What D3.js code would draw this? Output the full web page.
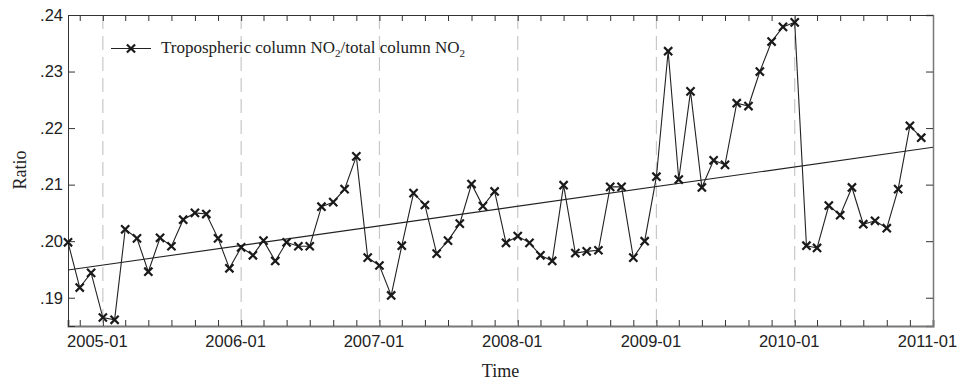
<!DOCTYPE html>
<html>
<head>
<meta charset="utf-8">
<script src="https://cdn.jsdelivr.net/npm/d3@7"></script>
<style>
  body { margin: 0; background: #fff; }
  svg { display: block; }
</style>
</head>
<body>
<svg id="chart" width="961" height="386"></svg>
<script>
// monthly ratio, 2004-10 .. 2010-12
const months = d3.timeMonth.range(new Date(2004, 9, 1), new Date(2011, 0, 1));
const ratio = [
  .1998, .1918, .1944,
  .1865, .1861, .2021, .2005, .1946, .2006, .1991, .2038, .2050, .2048, .2005, .1952,
  .1989, .1975, .2001, .1965, .1998, .1991, .1991, .2061, .2069, .2092, .2150, .1971,
  .1957, .1904, .1992, .2085, .2064, .1978, .2001, .2031, .2101, .2062, .2088, .1997,
  .2009, .1997, .1975, .1965, .2099, .1979, .1982, .1984, .2096, .2096, .1971, .2000,
  .2114, .2336, .2109, .2265, .2095, .2143, .2135, .2244, .2239, .2300, .2353, .2379,
  .2387, .1992, .1988, .2063, .2046, .2095, .2030, .2036, .2023, .2092, .2204, .2183
];
const trendDates = [new Date(2004, 9, 1), new Date(2011, 0, 1)];
const trendValues = [.1949, .2166];
const yTicks = [.19, .20, .21, .22, .23, .24];
const yearLines = [2005, 2006, 2007, 2008, 2009, 2010];
const legendLabel = "Tropospheric column NO";

const data = months.map((m, i) => ({date: m, value: ratio[i]}));
const trend = trendDates.map((d, i) => ({date: d, value: trendValues[i]}));

const margin = {top: 15, right: 28, bottom: 60, left: 68};
const W = 961, H = 386;
const w = W - margin.left - margin.right;
const h = H - margin.top - margin.bottom;

const svg = d3.select("#chart");
const g = svg.append("g").attr("transform", "translate(" + margin.left + "," + margin.top + ")");

const x = d3.scaleTime().domain([new Date(2004, 9, 1), new Date(2011, 0, 1)]).range([0, w]);
const y = d3.scaleLinear().domain([0.185, 0.24]).range([h, 0]);

// year dashed lines
g.selectAll(".yl").data(yearLines).enter().append("line")
  .attr("x1", d => x(new Date(d, 0, 1))).attr("x2", d => x(new Date(d, 0, 1)))
  .attr("y1", 0).attr("y2", h)
  .attr("stroke", "#c8c8c8").attr("stroke-width", 1.2)
  .attr("stroke-dasharray", "14,7");

const sans = "'Liberation Sans', Arial, sans-serif";
const serif = "'Liberation Serif', 'Times New Roman', serif";
const tickMonths = d3.timeMonth.every(2);

// axes
const xb = g.append("g").attr("transform", "translate(0," + h + ")")
  .call(d3.axisBottom(x).ticks(tickMonths).tickSize(-6).tickPadding(9)
    .tickFormat(d => d.getMonth() === 0 ? d3.timeFormat("%Y-%m")(d) : ""));
const xt = g.append("g")
  .call(d3.axisTop(x).ticks(tickMonths).tickSize(-6).tickFormat(""));
const yl = g.append("g")
  .call(d3.axisLeft(y).tickValues(yTicks).tickSize(-7).tickPadding(5)
    .tickFormat(d => d3.format(".2f")(d).slice(1)));
const yr = g.append("g").attr("transform", "translate(" + w + ",0)")
  .call(d3.axisRight(y).tickValues(yTicks).tickSize(-7).tickFormat(""));

[xb, xt, yl, yr].forEach(a => {
  a.selectAll("text").attr("font-family", sans).attr("font-size", 16.5).attr("fill", "#222");
  a.selectAll(".tick line").attr("stroke", "#333");
});
xb.selectAll("text").attr("dx", -6);
xb.select(".domain").attr("stroke", "#777").attr("stroke-width", 2);
yr.select(".domain").attr("stroke", "#777").attr("stroke-width", 1.5);
xt.select(".domain").attr("stroke", "#333");
yl.select(".domain").attr("stroke", "#333");

// trend line
const line = d3.line().x(d => x(d.date)).y(d => y(d.value));
g.append("path").datum(trend).attr("d", line)
  .attr("fill", "none").attr("stroke", "#222").attr("stroke-width", 1.1);

// series
g.append("path").datum(data).attr("d", line)
  .attr("fill", "none").attr("stroke", "#222").attr("stroke-width", 1.1);

const cross = d3.symbol(d3.symbolTimes).size(45);
g.selectAll(".pt").data(data).enter().append("path")
  .attr("transform", d => "translate(" + x(d.date) + "," + y(d.value) + ")")
  .attr("d", cross).attr("fill", "none").attr("stroke", "#1a1a1a").attr("stroke-width", 2.2);

// legend
const lg = g.append("g").attr("transform", "translate(43,33.5)");
lg.append("line").attr("x1", 0).attr("x2", 40).attr("y1", 0).attr("y2", 0)
  .attr("stroke", "#222").attr("stroke-width", 1.1);
lg.append("path").attr("transform", "translate(20,0)").attr("d", cross)
  .attr("fill", "none").attr("stroke", "#1a1a1a").attr("stroke-width", 2.2);
const lt = lg.append("text").attr("x", 50).attr("y", 4)
  .attr("font-family", serif).attr("font-size", 17).attr("fill", "#222");
lt.append("tspan").text(legendLabel);
lt.append("tspan").attr("dy", 4).attr("font-size", 11).text("2");
lt.append("tspan").attr("dy", -4).text("/total column NO");
lt.append("tspan").attr("dy", 4).attr("font-size", 11).text("2");

// axis titles
svg.append("text").attr("x", margin.left + w / 2).attr("y", 377)
  .attr("text-anchor", "middle").attr("font-family", serif).attr("font-size", 18)
  .attr("fill", "#222").text("Time");
svg.append("text").attr("transform", "translate(26," + (margin.top + 155) + ") rotate(-90)")
  .attr("text-anchor", "middle").attr("font-family", serif).attr("font-size", 18)
  .attr("fill", "#222").text("Ratio");
</script>
</body>
</html>
